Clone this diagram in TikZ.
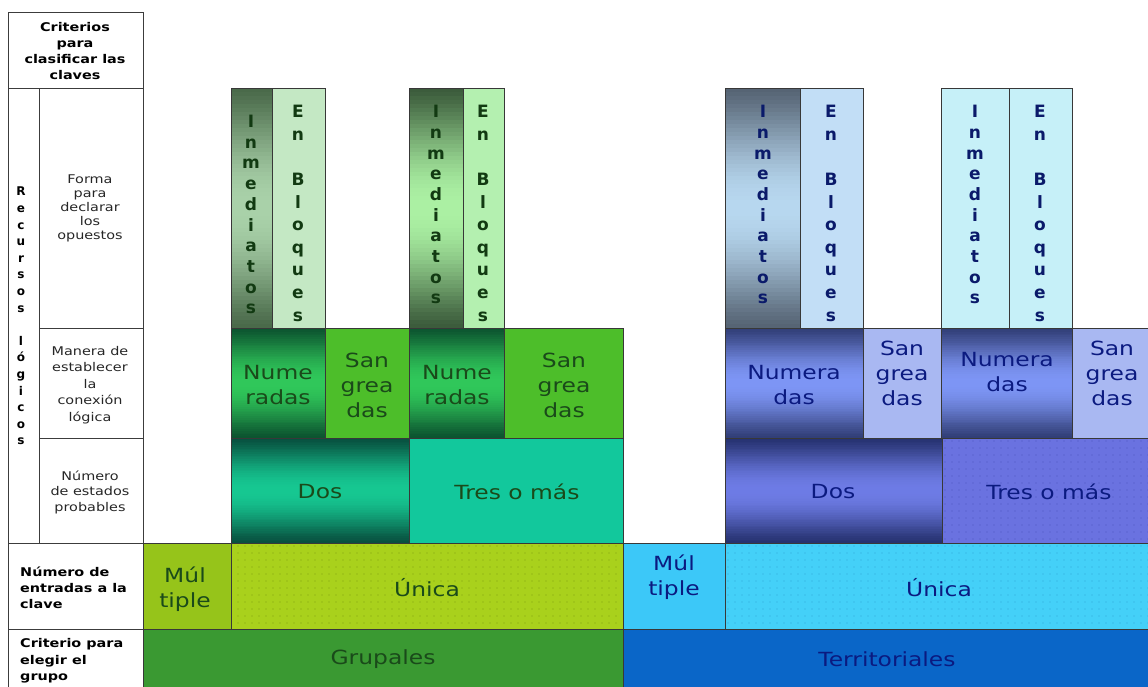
\documentclass[tikz,border=0pt]{standalone}
\usepackage{fontspec}
\setmainfont{DejaVu Sans}[FakeStretch=1.2]
\newfontfamily\vletfont{DejaVu Sans}
\usetikzlibrary{patterns.meta}
% green palette
\definecolor{gInmDa}{HTML}{4A6A4A}\definecolor{gInmLa}{HTML}{AAD2AA}
\definecolor{gInmDb}{HTML}{3C5C3C}\definecolor{gInmLb}{HTML}{ACF2A4}
\definecolor{gBlqa}{HTML}{C4E8C4}\definecolor{gBlqb}{HTML}{B4F0B0}
\definecolor{gNumD}{HTML}{0C5530}\definecolor{gNumL}{HTML}{30C85A}
\definecolor{gSan}{HTML}{4DBE2A}
\definecolor{gDosD}{HTML}{08503F}\definecolor{gDosL}{HTML}{16C892}
\definecolor{gTres}{HTML}{12C89C}
\definecolor{gMul}{HTML}{96C41A}\definecolor{gUni}{HTML}{A9D11C}
\definecolor{gUniDot}{HTML}{7E9E12}
\definecolor{gGrp}{HTML}{3A9932}
\definecolor{gText}{HTML}{1A4A1A}\definecolor{gLet}{HTML}{123A12}
% blue palette
\definecolor{bInmD}{HTML}{566474}\definecolor{bInmL}{HTML}{B8D8F0}
\definecolor{bBlqa}{HTML}{C2DEF6}\definecolor{bPale}{HTML}{C6F0F8}
\definecolor{bNumD}{HTML}{323F78}\definecolor{bNumL}{HTML}{7E96F6}
\definecolor{bSan}{HTML}{A9B8F2}
\definecolor{bDosD}{HTML}{263270}\definecolor{bDosL}{HTML}{6E7CE6}
\definecolor{bTres}{HTML}{6A72E0}\definecolor{bTresDot}{HTML}{5058C0}
\definecolor{bMul}{HTML}{3CC8F8}\definecolor{bUni}{HTML}{44D0F8}
\definecolor{bUniDot}{HTML}{30A6D6}
\definecolor{bTer}{HTML}{0A66C8}
\definecolor{bText}{HTML}{0B1A80}\definecolor{bLet}{HTML}{0A1A6A}
\definecolor{gridc}{HTML}{3C3C3C}
% gradient rectangle: x1, ytop, x2, ybottom, dark, light (dark-light-dark vertically)
\newcommand\gradrect[6]{%
  \begin{scope}
    \clip (#1,#2) rectangle (#3,#4);
    \foreach \i in {0,...,59}{%
      \pgfmathsetmacro\ya{#2+(#4-#2)*\i/60}%
      \pgfmathsetmacro\yb{#2+(#4-#2)*(\i+1.6)/60}%
      \pgfmathtruncatemacro\pc{100*sin(180*(\i+0.5)/60)^1.3}%
      \fill[#6!\pc!#5] (#1,\ya) rectangle (#3,\yb);
    }%
  \end{scope}
  \path[cell] (#1,#2) rectangle (#3,#4);
}
\begin{document}
\begin{tikzpicture}[x=1pt,y=1pt,
  cell/.style={draw=black!78,line width=0.9pt},
  grid/.style={draw=gridc,line width=1pt},
  big/.style={align=center,inner sep=0pt,font=\fontsize{19.5}{25}\selectfont},
  gtxt/.style={big,text=gText},
  btxt/.style={big,text=bText},
  small/.style={align=center,inner sep=0pt,text=black!85},
  boldl/.style={align=left,inner sep=0pt,anchor=west,text=black,font=\bfseries\fontsize{12}{16}\selectfont},
  vinm/.style={align=center,inner sep=0pt,anchor=north,font=\vletfont\bfseries\fontsize{17}{20.7}\selectfont},
  vblq/.style={align=center,inner sep=0pt,anchor=north,font=\vletfont\bfseries\fontsize{17}{22.6}\selectfont},
  dotsg/.style={pattern={Dots[radius=0.6pt,distance=7pt]},pattern color=gUniDot},
  dotsb/.style={pattern={Dots[radius=0.6pt,distance=7pt]},pattern color=bUniDot},
  dotst/.style={pattern={Dots[radius=0.6pt,distance=7pt]},pattern color=bTresDot}
]
\useasboundingbox (0,0) rectangle (1148,-686);
\clip (0,0) rectangle (1148,-686);

% ---------------- left table ----------------
\path[grid] (8,-12) rectangle (143,-88);
\path[grid] (8,-88) rectangle (143,-543);
\path[grid] (39,-88) -- (39,-543);
\path[grid] (39,-328) -- (143,-328);
\path[grid] (39,-438) -- (143,-438);
\path[grid] (8,-543) rectangle (143,-629);
\path[grid] (8,-629) rectangle (143,-700);

\node[align=center,inner sep=0pt,font=\bfseries\fontsize{12}{16}\selectfont] (hdr) at (75,-51) {Criterios\\para\\clasificar las\\claves};
\node[align=center,inner sep=0pt,anchor=north,font=\vletfont\bfseries\fontsize{12}{16.6}\selectfont] (rec) at (21,-187)
  {R\\e\\c\\u\\r\\s\\o\\s\\\mbox{}\\l\\ó\\g\\i\\c\\o\\s};
\node[small,font=\fontsize{12}{14}\selectfont] (forma) at (90,-208) {Forma\\para\\declarar\\los\\opuestos};
\node[small,font=\fontsize{12}{16.5}\selectfont] (manera) at (90,-385) {Manera de\\establecer\\la\\conexión\\lógica};
\node[small,font=\fontsize{12}{15.5}\selectfont] (estados) at (90,-492) {Número\\de estados\\probables};
\node[boldl] (entradas) at (20,-588) {Número de\\entradas a la\\clave};
\node[boldl,font=\bfseries\fontsize{12}{16.5}\selectfont] (criterio) at (20,-661) {Criterio para\\elegir el\\grupo};

% ---------------- green side ----------------
\path[cell,fill=gGrp] (143,-629) rectangle (623,-700);
\node[gtxt] (grupales) at (383,-659) {Grupales};
\path[cell,fill=gMul] (143,-543) rectangle (231,-629);
\node[gtxt] (gmul) at (185,-589) {Múl\\tiple};
\path[cell,fill=gUni] (231,-543) rectangle (623,-629);
\path[dotsg] (232,-544) rectangle (622,-628);
\node[gtxt] (guni) at (427,-588) {Única};
% numero de estados
\gradrect{231}{-438}{409}{-543}{gDosD}{gDosL}
\node[gtxt] (gdos) at (320,-492) {Dos};
\path[cell,fill=gTres] (409,-438) rectangle (623,-543);
\node[gtxt] (gtres) at (517,-492) {Tres o más};
% manera
\gradrect{231}{-328}{325}{-438}{gNumD}{gNumL}
\node[gtxt] (gnum1) at (278,-385) {Nume\\radas};
\path[cell,fill=gSan] (325,-328) rectangle (409,-438);
\node[gtxt] (gsan1) at (367,-385) {San\\grea\\das};
\gradrect{409}{-328}{504}{-438}{gNumD}{gNumL}
\node[gtxt] (gnum2) at (457,-385) {Nume\\radas};
\path[cell,fill=gSan] (504,-328) rectangle (623,-438);
\node[gtxt] (gsan2) at (564,-385) {San\\grea\\das};
% forma (columns)
\gradrect{231}{-88}{272}{-328}{gInmDa}{gInmLa}
\node[vinm,text=gLet] (ginm1) at (251,-115) {I\\n\\m\\e\\d\\i\\a\\t\\o\\s};
\path[cell,fill=gBlqa] (272,-88) rectangle (325,-328);
\node[vblq,text=gLet] (gblq1) at (298,-105) {E\\n\\\mbox{}\\B\\l\\o\\q\\u\\e\\s};
\gradrect{409}{-88}{463}{-328}{gInmDb}{gInmLb}
\node[vinm,text=gLet] (ginm2) at (436,-105) {I\\n\\m\\e\\d\\i\\a\\t\\o\\s};
\path[cell,fill=gBlqb] (463,-88) rectangle (504,-328);
\node[vblq,text=gLet] (gblq2) at (483,-105) {E\\n\\\mbox{}\\B\\l\\o\\q\\u\\e\\s};

% ---------------- blue side ----------------
\path[cell,fill=bTer] (623,-629) rectangle (1160,-700);
\node[btxt] (terr) at (887,-659) {Territoriales};
\path[cell,fill=bMul] (623,-543) rectangle (725,-629);
\node[btxt] (bmul) at (674,-577) {Múl\\tiple};
\path[cell,fill=bUni] (725,-543) rectangle (1160,-629);
\path[dotsb] (726,-544) rectangle (1148,-628);
\node[btxt] (buni) at (939,-588) {Única};
% numero de estados
\gradrect{725}{-438}{942}{-543}{bDosD}{bDosL}
\node[btxt] (bdos) at (833,-492) {Dos};
\path[cell,fill=bTres] (942,-438) rectangle (1160,-543);
\path[dotst] (943,-439) rectangle (1148,-542);
\node[btxt] (btres) at (1049,-492) {Tres o más};
% manera
\gradrect{725}{-328}{863}{-438}{bNumD}{bNumL}
\node[btxt] (bnum1) at (794,-385) {Numera\\das};
\path[cell,fill=bSan] (863,-328) rectangle (941,-438);
\node[btxt] (bsan1) at (902,-373) {San\\grea\\das};
\gradrect{941}{-328}{1072}{-438}{bNumD}{bNumL}
\node[btxt] (bnum2) at (1007,-372) {Numera\\das};
\path[cell,fill=bSan] (1072,-328) rectangle (1160,-438);
\node[btxt] (bsan2) at (1112,-373) {San\\grea\\das};
% forma (columns)
\gradrect{725}{-88}{800}{-328}{bInmD}{bInmL}
\node[vinm,text=bLet] (binm1) at (763,-105) {I\\n\\m\\e\\d\\i\\a\\t\\o\\s};
\path[cell,fill=bBlqa] (800,-88) rectangle (863,-328);
\node[vblq,text=bLet] (bblq1) at (831,-105) {E\\n\\\mbox{}\\B\\l\\o\\q\\u\\e\\s};
\path[cell,fill=bPale] (941,-88) rectangle (1009,-328);
\node[vinm,text=bLet] (binm2) at (975,-105) {I\\n\\m\\e\\d\\i\\a\\t\\o\\s};
\path[cell,fill=bPale] (1009,-88) rectangle (1072,-328);
\node[vblq,text=bLet] (bblq2) at (1040,-105) {E\\n\\\mbox{}\\B\\l\\o\\q\\u\\e\\s};
\end{tikzpicture}
\end{document}
